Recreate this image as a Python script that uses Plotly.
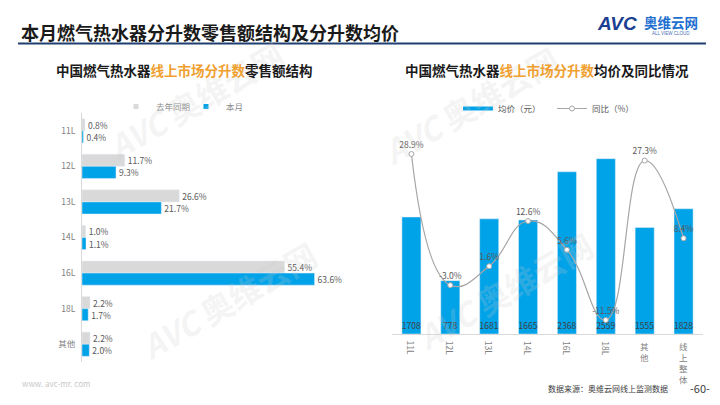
import plotly.graph_objects as go

# ---- data ----
size_cats = ["11L", "12L", "13L", "14L", "16L", "18L", "其他"]
share_last_year = [0.8, 11.7, 26.6, 1.0, 55.4, 2.2, 2.2]
share_this_month = [0.4, 9.3, 21.7, 1.1, 63.6, 1.7, 2.0]

price_cats = ["11L", "12L", "13L", "14L", "16L", "18L", "其他", "线上整体"]
avg_price = [1708, 778, 1681, 1665, 2368, 2559, 1555, 1828]
yoy = [28.9, -3.0, 1.6, 12.6, 5.6, -11.5, 27.3, 8.4]

FONT = "Noto Sans CJK SC"
BLUE = "#00A2E8"
GREY_BAR = "#D9D9D9"
LBL = "#595959"
W, H = 720, 405


def px(x):
    return x / W


def py(y):
    return 1 - y / H


fig = go.Figure()

# ---- left: horizontal grouped bars ----
fig.add_trace(go.Bar(
    y=size_cats, x=share_last_year, orientation="h", name="去年同期",
    marker_color=GREY_BAR, text=[f"{v:.1f}%" for v in share_last_year],
    textposition="outside", textfont=dict(size=8.5, color=LBL, family=FONT),
    cliponaxis=False, showlegend=False, xaxis="x", yaxis="y"))
fig.add_trace(go.Bar(
    y=size_cats, x=share_this_month, orientation="h", name="本月",
    marker_color=BLUE, text=[f"{v:.1f}%" for v in share_this_month],
    textposition="outside", textfont=dict(size=8.5, color=LBL, family=FONT),
    cliponaxis=False, showlegend=False, xaxis="x", yaxis="y"))
# legend proxies (left)
for nm, col in [("去年同期", GREY_BAR), ("本月", BLUE)]:
    fig.add_trace(go.Scatter(
        x=[None], y=[None], mode="markers", name=nm,
        marker=dict(symbol="square", size=5, color=col),
        xaxis="x", yaxis="y", legend="legend"))

# ---- right: bars + yoy line ----
fig.add_trace(go.Bar(
    x=price_cats, y=avg_price, name="均价（元）", marker_color=BLUE, width=0.49,
    text=[str(v) for v in avg_price], textposition="inside",
    insidetextanchor="start", textangle=0, constraintext="none",
    textfont=dict(size=8.5, color="#404040", family=FONT),
    showlegend=False, xaxis="x2", yaxis="y2"))
fig.add_trace(go.Scatter(
    x=price_cats, y=yoy, name="同比（%）", mode="lines+markers+text",
    line=dict(color="#A6A6A6", width=1.2, shape="spline", smoothing=1.3),
    marker=dict(size=5, color="white", line=dict(color="#A6A6A6", width=1)),
    text=[f"{v:.1f}%" for v in yoy], textposition="top center",
    textfont=dict(size=8.5, color=LBL, family=FONT),
    cliponaxis=False, showlegend=False, xaxis="x2", yaxis="y3"))
# legend proxies (right)
fig.add_trace(go.Scatter(
    x=[None], y=[None], mode="lines", name="均价（元）",
    line=dict(color=BLUE, width=4), xaxis="x2", yaxis="y2", legend="legend2"))
fig.add_trace(go.Scatter(
    x=[None], y=[None], mode="lines+markers", name="同比（%）",
    line=dict(color="#A6A6A6", width=1),
    marker=dict(size=5, color="white", line=dict(color="#A6A6A6", width=1)),
    xaxis="x2", yaxis="y3", legend="legend2"))

# right x tick labels (vertical)
annotations = []
for c in price_cats:
    if c.isascii():
        annotations.append(dict(
            x=c, y=py(339), xref="x2", yref="paper", text=c, textangle=90,
            showarrow=False, xanchor="center", yanchor="top",
            font=dict(size=8.5, color="#7F7F7F", family=FONT)))
    else:
        annotations.append(dict(
            x=c, y=py(338), xref="x2", yref="paper", text="<br>".join(c),
            showarrow=False, xanchor="center", yanchor="top",
            font=dict(size=8.5, color="#7F7F7F", family=FONT)))

# faint watermarks
for wx, wy in [(195, 100), (228, 300), (470, 105), (505, 290)]:
    annotations.append(dict(
        x=px(wx), y=py(wy), xref="paper", yref="paper", xanchor="center",
        yanchor="middle", showarrow=False, textangle=-30,
        text="<b><i>AVC</i></b> <b>奥维云网</b>",
        font=dict(size=32, color="rgba(205,205,205,0.22)", family=FONT)))

# titles & decorations
annotations += [
    dict(x=px(19), y=py(32), xref="paper", yref="paper", xanchor="left",
         yanchor="middle", showarrow=False,
         text="<b>本月燃气热水器分升数零售额结构及分升数均价</b>",
         font=dict(size=18, color="#1A1A1A", family=FONT)),
    dict(x=px(185), y=py(70), xref="paper", yref="paper", xanchor="center",
         yanchor="middle", showarrow=False,
         text="<b>中国燃气热水器<span style='color:#F0A030'>线上市场分升数</span>零售额结构</b>",
         font=dict(size=13.5, color="#1A1A1A", family=FONT)),
    dict(x=px(547), y=py(70), xref="paper", yref="paper", xanchor="center",
         yanchor="middle", showarrow=False,
         text="<b>中国燃气热水器<span style='color:#F0A030'>线上市场分升数</span>均价及同比情况</b>",
         font=dict(size=13.5, color="#1A1A1A", family=FONT)),
    dict(x=px(595), y=py(23), xref="paper", yref="paper", xanchor="left",
         yanchor="middle", showarrow=False,
         text="<b><i>AVC</i></b>",
         font=dict(size=19, color="#1B3F91", family="Liberation Sans")),
    dict(x=px(642), y=py(22), xref="paper", yref="paper", xanchor="left",
         yanchor="middle", showarrow=False, text="<b>奥维云网</b>",
         font=dict(size=13.5, color="#1E6FD0", family=FONT)),
    dict(x=px(671), y=py(34), xref="paper", yref="paper", xanchor="center",
         yanchor="middle", showarrow=False, text="ALL VIEW CLOUD",
         font=dict(size=4.5, color="#4A6FB5", family="Liberation Sans")),
    dict(x=px(20), y=py(383), xref="paper", yref="paper", xanchor="left",
         yanchor="middle", showarrow=False, text="www. avc-mr. com",
         font=dict(size=8, color="#C8C8C8", family=FONT)),
    dict(x=px(670), y=py(388), xref="paper", yref="paper", xanchor="right",
         yanchor="middle", showarrow=False, text="数据来源：奥维云网线上监测数据",
         font=dict(size=8, color="#404040", family=FONT)),
    dict(x=px(700), y=py(388), xref="paper", yref="paper", xanchor="center",
         yanchor="middle", showarrow=False, text="-60-",
         font=dict(size=11, color="#404040", family=FONT)),
]

shapes = [
    dict(type="line", xref="paper", yref="paper", x0=px(18), x1=px(706),
         y0=py(43.5), y1=py(43.5), line=dict(color="#1F3F6E", width=2)),
]

fig.update_layout(
    width=W, height=H, margin=dict(l=0, r=0, t=0, b=0),
    paper_bgcolor="white", plot_bgcolor="white",
    font=dict(family=FONT, size=8.5, color=LBL),
    barmode="group", bargap=0.32, bargroupgap=0,
    xaxis=dict(domain=[px(82), px(338)], range=[0, 70], visible=False,
               fixedrange=True),
    yaxis=dict(domain=[py(362), py(113)], categoryorder="array",
               categoryarray=size_cats, autorange="reversed",
               showgrid=False, zeroline=False, showline=True,
               linecolor="#D9D9D9", linewidth=1, ticks="",
               tickfont=dict(size=8.5, color="#7F7F7F", family=FONT),
               ticklabelstandoff=4, anchor="x"),
    xaxis2=dict(domain=[px(392), px(703)], showticklabels=False,
                showgrid=False, zeroline=False, showline=True,
                linecolor="#D9D9D9", linewidth=1, ticks="", anchor="y2",
                categoryorder="array", categoryarray=price_cats),
    yaxis2=dict(domain=[py(334), py(140)], range=[0, 2832], visible=False,
                anchor="x2"),
    yaxis3=dict(overlaying="y2", range=[-14.89, 32.31], visible=False,
                anchor="x2", side="right"),
    legend=dict(orientation="h", x=px(116), y=py(92), xanchor="left",
                yanchor="top", font=dict(size=8.5, color="#8C8C8C", family=FONT),
                bgcolor="rgba(0,0,0,0)", itemclick=False,
                entrywidth=25, entrywidthmode="pixels"),
    legend2=dict(orientation="h", x=px(458), y=py(94), xanchor="left",
                 yanchor="top", font=dict(size=8.5, color="#595959", family=FONT),
                 bgcolor="rgba(0,0,0,0)", itemclick=False,
                 entrywidth=49, entrywidthmode="pixels"),
    annotations=annotations, shapes=shapes,
)

fig.write_html("out.html")
